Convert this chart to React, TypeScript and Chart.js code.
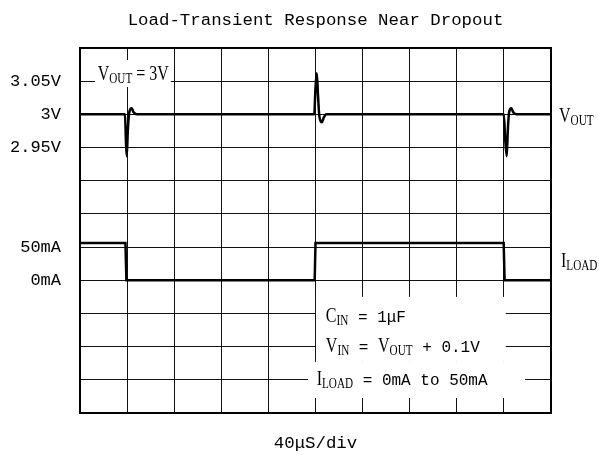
import React, { useEffect, useRef } from 'react';
import { Chart, registerables } from 'chart.js';

Chart.register(...registerables);

// ---- data (time in µs, voltage in V, current in mA) ----
const vTime = [0, 38.2, 39.0, 39.7, 40.6, 41.6, 42.8, 43.9, 45.5, 48.2,
  198.9, 200.0, 201.1, 202.1, 203.1, 204.3, 205.4, 207.0, 209.0,
  359.9, 361.2, 362.4, 363.3, 364.2, 365.3, 366.3, 368.0, 371.0, 400];
const vVolt = [3.0, 3.0, 2.96, 2.937, 2.975, 3.0, 3.008, 3.009, 3.003, 3.0,
  3.0, 3.04, 3.062, 3.03, 3.0, 2.99, 2.988, 2.995, 3.0,
  3.0, 2.96, 2.937, 2.975, 3.0, 3.008, 3.009, 3.003, 3.0, 3.0];
const iTime = [0, 38.6, 39.4, 199.3, 200.0, 359.8, 360.6, 400];
const iLoad = [56, 56, 0, 0, 56, 56, 0, 0];

const voltTicks = [3.05, 3.0, 2.95];
const currentTicks = [50, 0];

// axis ranges (10 div × 40µs, 11 div × 50mV / 50mA)
const T_MIN = 0, T_MAX = 400, T_STEP = 40;
const V_MIN = 2.55, V_MAX = 3.1, V_STEP = 0.05;
const I_MIN = -200, I_MAX = 350;

const TITLE = 'Load-Transient Response Near Dropout';
const X_TITLE = '40μS/div';

const SERIF = '"Liberation Serif", "Times New Roman", serif';
const MONO = '"Liberation Mono", "Courier New", monospace';

type Seg = [string, 'S' | 's' | 'M'];
const STYLES: Record<string, { font: string; sx: number; dy: number }> = {
  S: { font: `20px ${SERIF}`, sx: 0.8, dy: 0 },
  s: { font: `14px ${SERIF}`, sx: 0.8, dy: 3 },
  M: { font: `16px ${MONO}`, sx: 1, dy: 0 },
};

// annotation texts (positions as fractions of the plot area)
const inLabels: { fx: number; fy: number; segs: Seg[] }[] = [
  { fx: 0.0376, fy: 0.0877, segs: [['V', 'S'], ['OUT', 's'], [' = ', 'S'], ['3V', 'S']] },
  { fx: 0.522, fy: 0.75, segs: [['C', 'S'], ['IN', 's'], [' = ', 'M'], ['1μF', 'M']] },
  { fx: 0.522, fy: 0.832, segs: [['V', 'S'], ['IN', 's'], [' = ', 'M'], ['V', 'S'], ['OUT', 's'], [' + ', 'M'], ['0.1V', 'M']] },
  { fx: 0.5025, fy: 0.923, segs: [['I', 'S'], ['LOAD', 's'], [' = ', 'M'], ['0mA to 50mA', 'M']] },
];
const boxes = [
  [0.032, 0.033, 0.193, 0.107],
  [0.501, 0.682, 0.904, 0.86],
  [0.484, 0.86, 0.945, 0.959],
];

function drawRich(ctx: CanvasRenderingContext2D, x: number, y: number, segs: Seg[]) {
  let cx = x;
  for (const [t, k] of segs) {
    const st = STYLES[k];
    ctx.font = st.font;
    ctx.save();
    ctx.translate(cx, y + st.dy);
    ctx.scale(st.sx, 1);
    ctx.fillText(t, 0, 0);
    ctx.restore();
    cx += ctx.measureText(t).width * st.sx;
  }
}

const overlay = {
  id: 'overlay',
  beforeDatasetsDraw(chart: any) {
    const { ctx, chartArea: a } = chart;
    const w = a.right - a.left;
    const h = a.bottom - a.top;
    ctx.save();
    ctx.fillStyle = '#fff';
    for (const [x0, y0, x1, y1] of boxes) {
      ctx.fillRect(a.left + x0 * w, a.top + y0 * h, (x1 - x0) * w, (y1 - y0) * h);
    }
    ctx.fillStyle = '#000';
    ctx.textAlign = 'left';
    ctx.textBaseline = 'alphabetic';
    for (const l of inLabels) drawRich(ctx, a.left + l.fx * w, a.top + l.fy * h, l.segs);
    ctx.restore();
  },
  afterDatasetsDraw(chart: any) {
    const { ctx, chartArea: a, scales } = chart;
    ctx.save();
    ctx.strokeStyle = '#000';
    ctx.lineWidth = 2;
    ctx.strokeRect(a.left, a.top, a.right - a.left, a.bottom - a.top);
    ctx.fillStyle = '#000';
    ctx.textAlign = 'left';
    ctx.textBaseline = 'alphabetic';
    drawRich(ctx, a.right + 8, scales.yV.getPixelForValue(3) + 8, [['V', 'S'], ['OUT', 's']]);
    drawRich(ctx, a.right + 10, scales.yI.getPixelForValue(25) + 3, [['I', 'S'], ['LOAD', 's']]);
    ctx.restore();
  },
};

const near = (v: number, list: number[], tol = 1e-3) => list.some((t) => Math.abs(t - v) < tol);

function leftLabel(value: any): string {
  const n = Number(value);
  if (near(n, voltTicks, 1e-6)) return `${+n.toFixed(2)}V`;
  const cur = I_MIN + ((n - V_MIN) / (V_MAX - V_MIN)) * (I_MAX - I_MIN);
  if (near(cur, currentTicks)) return `${Math.round(cur)}mA`;
  return '';
}

export default function App() {
  const ref = useRef<HTMLCanvasElement>(null);
  useEffect(() => {
    const chart = new Chart(ref.current!, {
      type: 'line',
      data: {
        datasets: [
          {
            label: 'VOUT',
            data: vTime.map((t, i) => ({ x: t, y: vVolt[i] })),
            yAxisID: 'yV',
            borderColor: '#000',
            borderWidth: 2.5,
            pointRadius: 0,
            cubicInterpolationMode: 'monotone',
            fill: false,
          },
          {
            label: 'ILOAD',
            data: iTime.map((t, i) => ({ x: t, y: iLoad[i] })),
            yAxisID: 'yI',
            borderColor: '#000',
            borderWidth: 2.5,
            pointRadius: 0,
            tension: 0,
            fill: false,
          },
        ],
      },
      options: {
        animation: false,
        responsive: false,
        devicePixelRatio: 1,
        layout: { padding: { left: 0, right: 48, top: 0, bottom: 0 } },
        plugins: {
          legend: { display: false },
          tooltip: { enabled: false },
          title: {
            display: true,
            fullSize: false,
            text: TITLE,
            color: '#000',
            font: { family: MONO, size: 17.4, weight: 'normal' },
            padding: { top: 10, bottom: 17.1 },
          },
        },
        scales: {
          x: {
            type: 'linear',
            min: T_MIN,
            max: T_MAX,
            ticks: { display: false, stepSize: T_STEP },
            grid: { color: '#111', lineWidth: 1, drawTicks: false },
            border: { display: false },
            title: {
              display: true,
              text: X_TITLE,
              color: '#000',
              font: { family: MONO, size: 17.4 },
              padding: { top: 0, bottom: 1 },
            },
            afterFit: (s: any) => { s.height = 42; },
          },
          yV: {
            type: 'linear',
            position: 'left',
            min: V_MIN,
            max: V_MAX,
            ticks: {
              stepSize: V_STEP,
              autoSkip: false,
              padding: 19,
              color: '#000',
              font: { family: MONO, size: 17 },
              callback: leftLabel,
            },
            grid: { color: '#111', lineWidth: 1, drawTicks: false },
            border: { display: false },
            afterFit: (s: any) => { s.width = 80; },
          },
          yI: {
            type: 'linear',
            display: false,
            min: I_MIN,
            max: I_MAX,
          },
        },
      },
      plugins: [overlay],
    } as any);
    return () => chart.destroy();
  }, []);
  return (
    <div style={{ position: 'absolute', left: 0, top: 0, width: 599, height: 455, background: '#fff' }}>
      <canvas ref={ref} width={599} height={455} style={{ display: 'block' }} />
    </div>
  );
}
